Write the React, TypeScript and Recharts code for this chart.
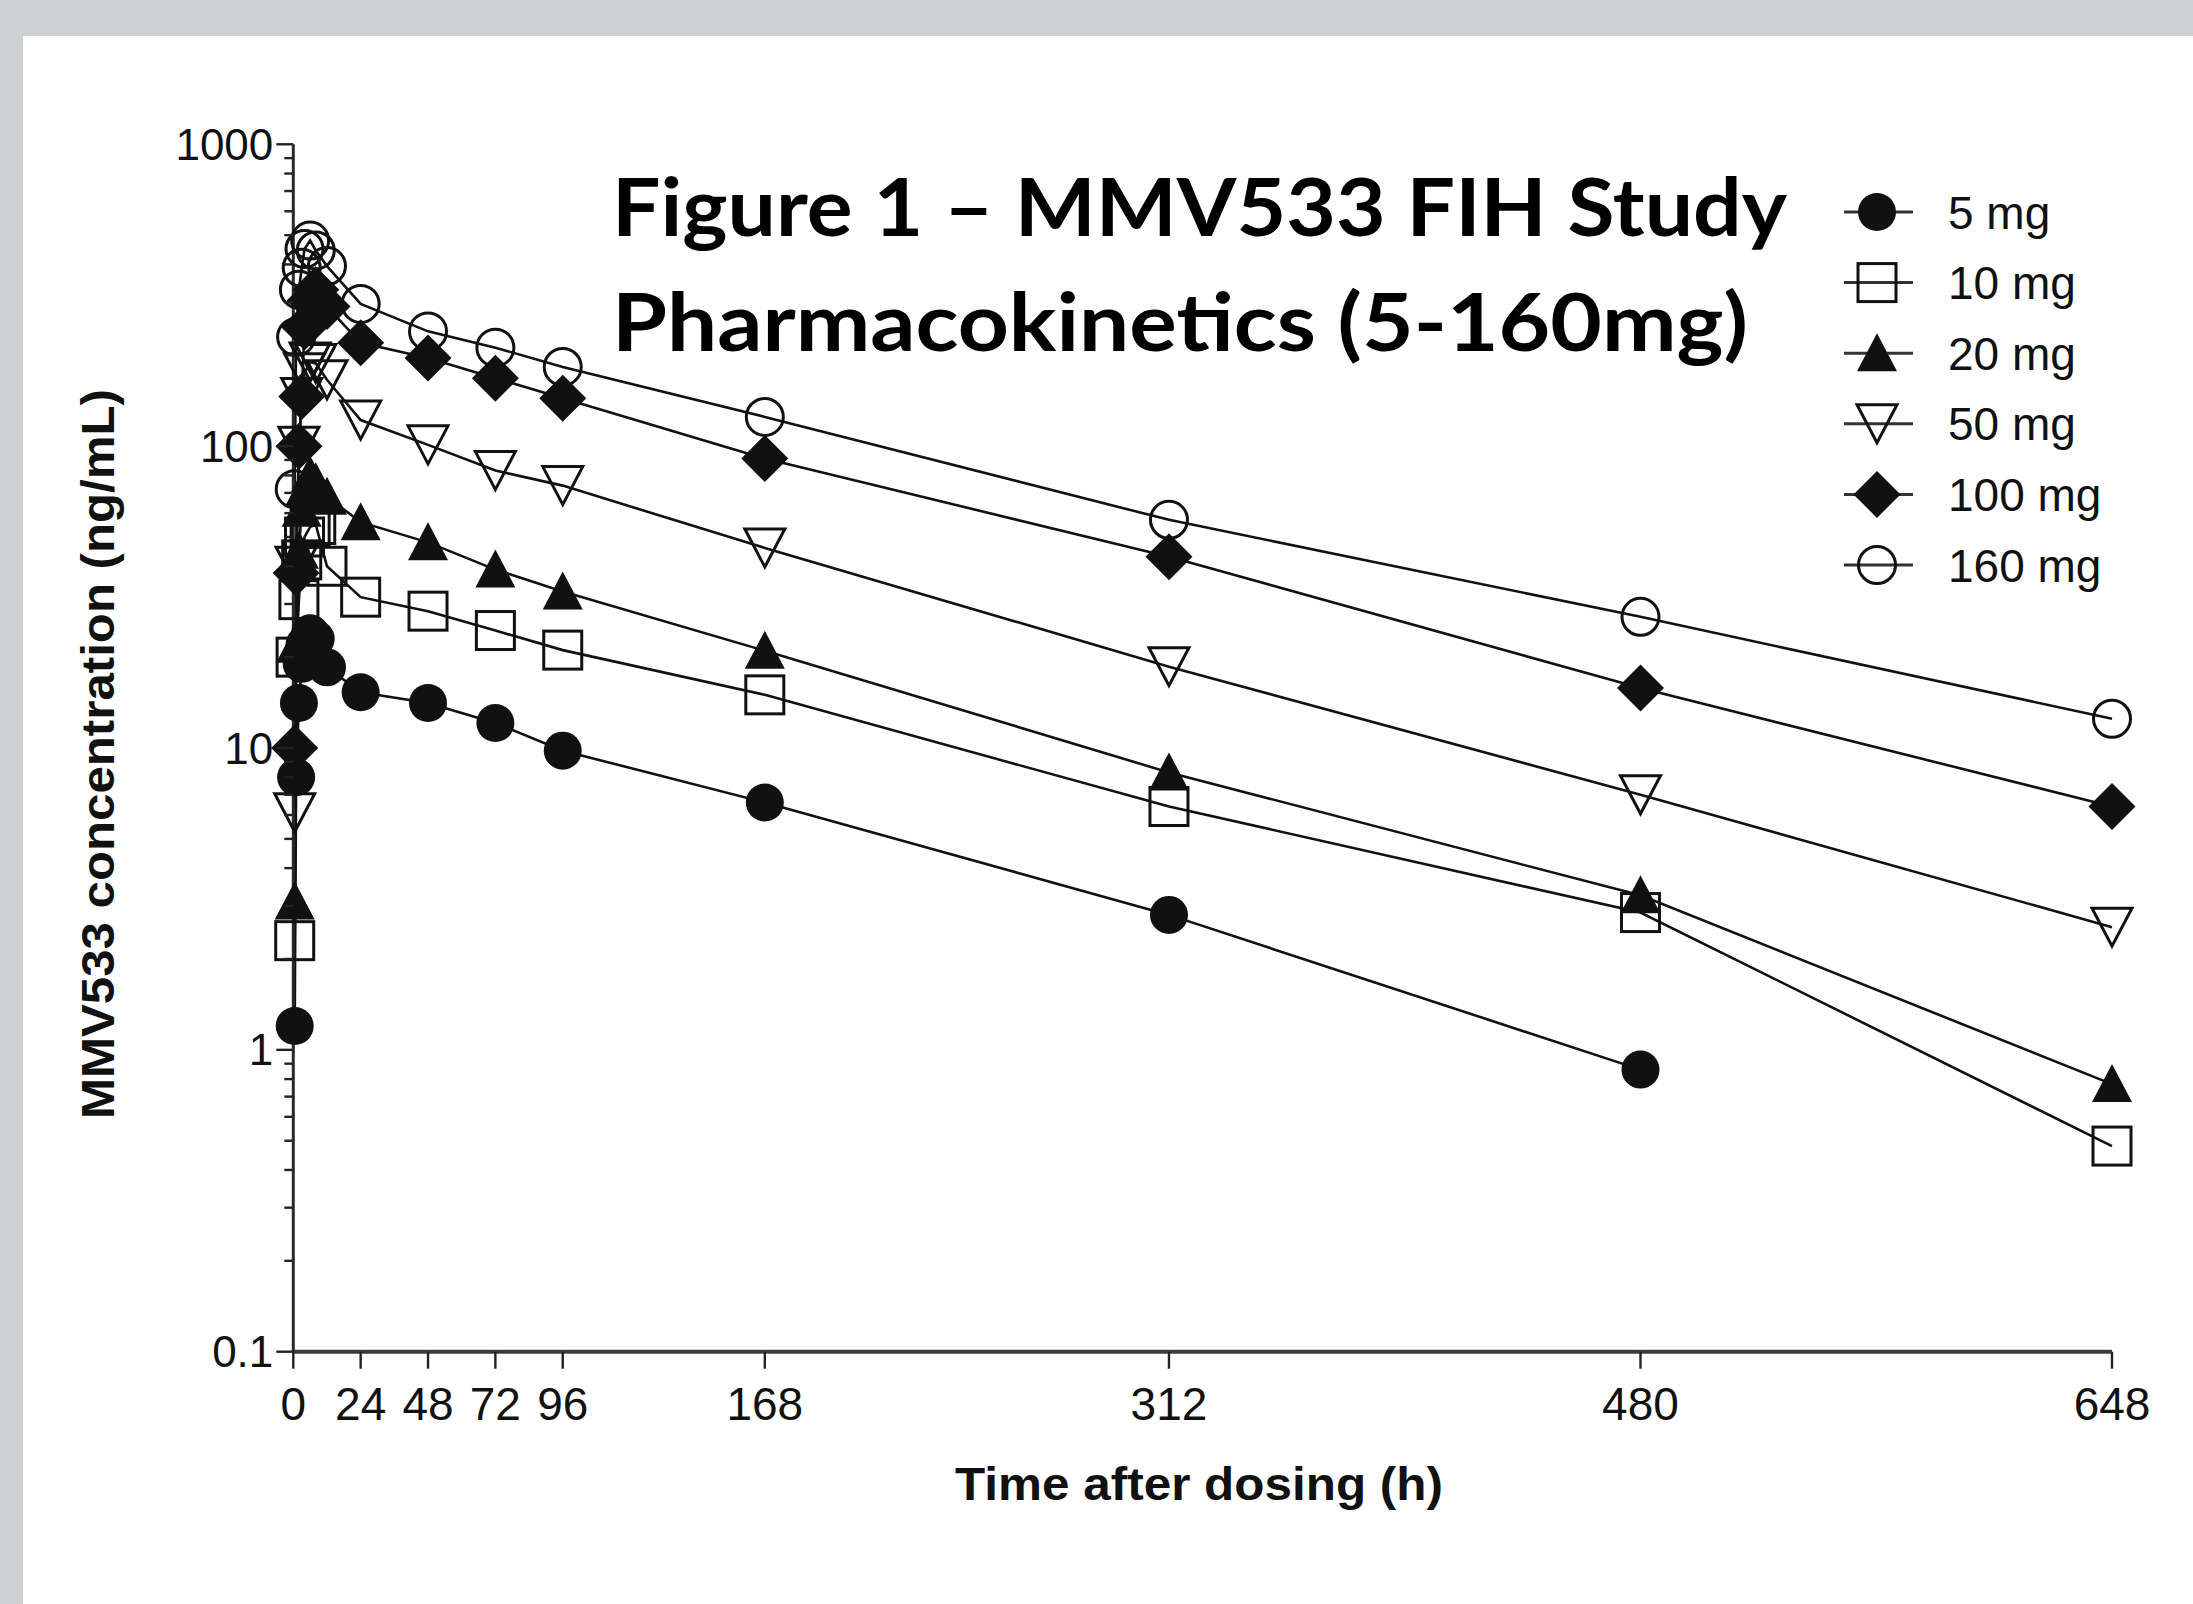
import React from 'react';
import { LineChart, Line, XAxis, YAxis, Legend, Label } from 'recharts';

// ---------- data ----------
const times = [0.5, 1, 2, 3, 4, 6, 8, 12, 24, 48, 72, 96, 168, 312, 480, 648];
const conc5mg = [1.2, 8, 14.1, 19, 22, 24, 23, 18.5, 15.3, 14.1, 12.1, 9.8, 6.6, 2.8, 0.86];
const conc10mg = [2.3, 20, 31, 42, 50, 54, 55, 40, 31.6, 28.4, 24.5, 21.1, 15.0, 6.4, 2.85, 0.48];
const conc20mg = [3.1, 22, 45, 62, 72, 80, 76, 68, 56, 48, 39, 33, 21, 8.3, 3.25, 0.77];
const conc50mg = [6.1, 40, 100, 145, 175, 190, 188, 166, 122, 101, 83, 74, 46, 18.6, 7.0, 2.55];
const conc100mg = [10, 38, 100, 146, 248, 304, 330, 290, 220, 196, 168, 144, 91, 43, 15.8, 6.4];
const conc160mg = [72, 230, 330, 390, 450, 480, 445, 395, 296, 240, 212, 183, 125, 57, 27.2, 12.5];
const seriesNames = ['5 mg', '10 mg', '20 mg', '50 mg', '100 mg', '160 mg'];
const seriesShapes = ['circleFilled', 'squareOpen', 'triangleFilled', 'triangleDownOpen', 'diamondFilled', 'circleOpen'];
const xTicks = [0, 24, 48, 72, 96, 168, 312, 480, 648];
const yMajorTicks = [0.1, 1, 10, 100, 1000];
const yMinorTicks = [
  0.2, 0.3, 0.4, 0.5, 0.6, 0.7, 0.8, 0.9,
  2, 3, 4, 5, 6, 7, 8, 9,
  20, 30, 40, 50, 60, 70, 80, 90,
  200, 300, 400, 500, 600, 700, 800, 900,
];
const yTickLabels = ['0.1', '1', '10', '100', '1000'];
const titleLines = ['Figure 1 \u2013 MMV533 FIH Study', 'Pharmacokinetics (5-160mg)'];
const xAxisTitle = 'Time after dosing (h)';
const yAxisTitle = 'MMV533 concentration (ng/mL)';

const allSeries = [conc5mg, conc10mg, conc20mg, conc50mg, conc100mg, conc160mg];
const seriesData = allSeries.map((vals) => vals.map((v, i) => ({ t: times[i], v })));

// ---------- layout ----------
const W = 2193;
const H = 1604;
const PLOT_LEFT = 293.3;
const PLOT_RIGHT = 2112;
const PLOT_TOP = 144.3;
const PLOT_BOTTOM = 1351.7;
const Y_AXIS_W = 80;
const X_AXIS_H = 80;
const INK = '#111';

const Marker = ({ shape, cx, cy }: { shape: string; cx: number; cy: number }) => {
  if (cx == null || cy == null || isNaN(cx) || isNaN(cy)) return null;
  switch (shape) {
    case 'circleFilled':
      return <circle cx={cx} cy={cy} r={19} fill={INK} />;
    case 'squareOpen':
      return <rect x={cx - 19} y={cy - 19} width={38} height={38} fill="none" stroke={INK} strokeWidth={3} />;
    case 'triangleFilled':
      return <polygon points={`${cx},${cy - 20} ${cx - 20},${cy + 18} ${cx + 20},${cy + 18}`} fill={INK} />;
    case 'triangleDownOpen':
      return <polygon points={`${cx - 20},${cy - 19} ${cx + 20},${cy - 19} ${cx},${cy + 19}`} fill="none" stroke={INK} strokeWidth={3} strokeLinejoin="miter" />;
    case 'diamondFilled':
      return <polygon points={`${cx},${cy - 23.5} ${cx + 23.5},${cy} ${cx},${cy + 23.5} ${cx - 23.5},${cy}`} fill={INK} />;
    case 'circleOpen':
      return <circle cx={cx} cy={cy} r={18.5} fill="none" stroke={INK} strokeWidth={3} />;
    default:
      return null;
  }
};

const YTick = (props: any) => {
  const { x, y, payload } = props;
  const v = payload.value;
  const majorIdx = yMajorTicks.indexOf(v);
  const major = majorIdx >= 0;
  return (
    <g>
      <line x1={x} x2={x - (major ? 17 : 9)} y1={y} y2={y} stroke="#222" strokeWidth={2.4} />
      {major && (
        <text
          x={x - 20}
          y={y + 15.5}
          textAnchor="end"
          fontSize={44}
          fontFamily="'Liberation Sans', Arial, sans-serif"
          fill={INK}
        >
          {yTickLabels[majorIdx]}
        </text>
      )}
    </g>
  );
};

const XTick = (props: any) => {
  const { x, y, payload } = props;
  return (
    <g>
      <line x1={x} x2={x} y1={y} y2={y + 17} stroke="#222" strokeWidth={2.4} />
      <text
        x={x}
        y={y + 68}
        textAnchor="middle"
        fontSize={46}
        fontFamily="'Liberation Sans', Arial, sans-serif"
        fill={INK}
      >
        {payload.value}
      </text>
    </g>
  );
};

const LegendContent = () => (
  <svg width={360} height={440} style={{ overflow: 'visible', display: 'block' }}>
    {seriesNames.map((name, i) => {
      const y = 42 + i * 70.6;
      return (
        <g key={name}>
          <line x1={14} x2={83} y1={y} y2={y} stroke="#333" strokeWidth={3} />
          <Marker shape={seriesShapes[i]} cx={47} cy={y} />
          <text
            x={118}
            y={y + 16.5}
            fontSize={46}
            fontFamily="'Liberation Sans', Arial, sans-serif"
            fill={INK}
          >
            {name}
          </text>
        </g>
      );
    })}
  </svg>
);

export default function App() {
  return (
    <div style={{ position: 'absolute', left: 0, top: 0, width: W, height: H, background: '#cdd1d2', overflow: 'hidden' }}>
      <div style={{ position: 'absolute', left: 23, top: 36, width: W - 23, height: H - 36, background: '#ffffff' }} />
      <div style={{ position: 'absolute', left: 0, top: 0 }}>
        <LineChart
          width={W}
          height={H}
          margin={{
            top: PLOT_TOP,
            right: W - PLOT_RIGHT,
            left: PLOT_LEFT - Y_AXIS_W,
            bottom: H - PLOT_BOTTOM - X_AXIS_H,
          }}
          style={{ overflow: 'visible' }}
        >
          <XAxis
            type="number"
            dataKey="t"
            domain={[0, 648]}
            ticks={xTicks}
            interval={0}
            height={X_AXIS_H}
            tickSize={0}
            tickMargin={0}
            tickLine={false}
            axisLine={{ stroke: '#3c3c3c', strokeWidth: 4 }}
            tick={<XTick />}
          >
            <Label
              content={() => (
                <text
                  x={1199}
                  y={1500}
                  textAnchor="middle"
                  fontSize={46}
                  fontWeight="bold"
                  fontFamily="'Liberation Sans', Arial, sans-serif"
                  fill={INK}
                  textLength={488}
                  lengthAdjust="spacingAndGlyphs"
                >
                  {xAxisTitle}
                </text>
              )}
            />
          </XAxis>
          <YAxis
            type="number"
            scale="log"
            domain={[0.1, 1000]}
            ticks={[...yMajorTicks, ...yMinorTicks]}
            interval={0}
            width={Y_AXIS_W}
            tickSize={0}
            tickMargin={0}
            tickLine={false}
            axisLine={{ stroke: '#2a2a2a', strokeWidth: 3 }}
            tick={<YTick />}
          >
            <Label
              content={() => (
                <text
                  transform="translate(114,754) rotate(-90)"
                  textAnchor="middle"
                  fontSize={46}
                  fontWeight="bold"
                  fontFamily="'Liberation Sans', Arial, sans-serif"
                  fill={INK}
                  textLength={730}
                  lengthAdjust="spacingAndGlyphs"
                >
                  {yAxisTitle}
                </text>
              )}
            />
          </YAxis>
          {seriesData.map((data, i) => (
            <Line
              key={seriesNames[i]}
              name={seriesNames[i]}
              data={data}
              dataKey="v"
              type="linear"
              stroke={INK}
              strokeWidth={2.6}
              isAnimationActive={false}
              activeDot={false}
              dot={(p: any) => (
                <Marker key={`${i}-${p.index}`} shape={seriesShapes[i]} cx={p.cx} cy={p.cy} />
              )}
            />
          ))}
          <Legend
            layout="vertical"
            align="center"
            verticalAlign="middle"
            wrapperStyle={{ left: 1830, top: 170, width: 360, height: 440, right: 'auto', bottom: 'auto' }}
            content={<LegendContent />}
          />
        </LineChart>
      </div>
      <svg width={W} height={H} style={{ position: 'absolute', left: 0, top: 0, pointerEvents: 'none' }}>
        <text
          x={612}
          y={236}
          fontSize={80}
          fontWeight={700}
          fontFamily="Lato, 'Open Sans', sans-serif"
          fill="#000"
          textLength={1175}
          lengthAdjust="spacingAndGlyphs"
        >
          {titleLines[0]}
        </text>
        <text
          x={612}
          y={351}
          fontSize={80}
          fontWeight={700}
          fontFamily="Lato, 'Open Sans', sans-serif"
          fill="#000"
          textLength={1136}
          lengthAdjust="spacingAndGlyphs"
        >
          {titleLines[1]}
        </text>
      </svg>
    </div>
  );
}
